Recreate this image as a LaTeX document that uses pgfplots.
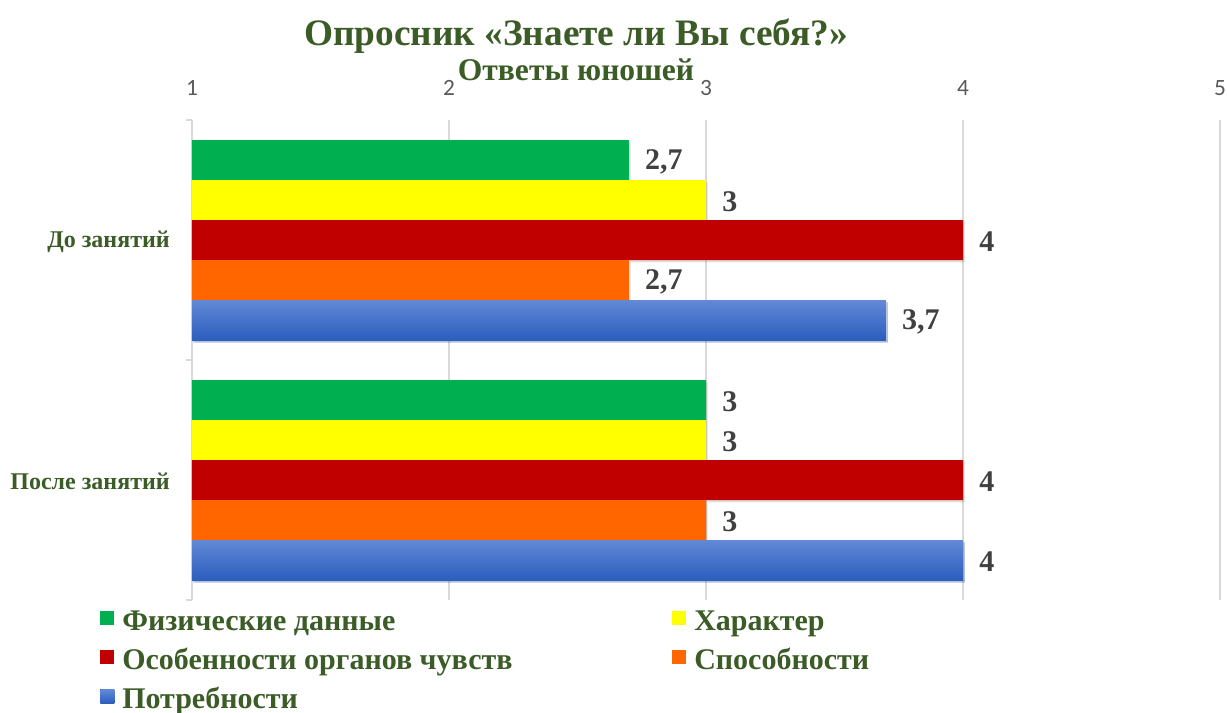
\documentclass[border=0pt]{standalone}
\usepackage{fontspec}
\setmainfont{Liberation Serif}
\newfontfamily\tickfont{Carlito}
\usepackage{pgfplots}
\pgfplotsset{compat=1.18}
\usetikzlibrary{shadows}
\definecolor{txtgreen}{RGB}{59,92,38}
\definecolor{gridgray}{RGB}{217,217,217}
\definecolor{tickgray}{RGB}{89,89,89}
\definecolor{lblgray}{RGB}{64,64,64}
\definecolor{cgreen}{RGB}{0,176,80}
\definecolor{cyellow}{RGB}{255,255,0}
\definecolor{cred}{RGB}{192,0,0}
\definecolor{corange}{RGB}{255,102,0}
\definecolor{cbluetop}{RGB}{98,137,214}
\definecolor{cbluebot}{RGB}{44,94,190}
\begin{document}
\begin{tikzpicture}
\path[use as bounding box] (-144pt,-84.75pt) rectangle (776.25pt,450pt);
\begin{axis}[
  at={(0,0)}, anchor=south west,
  scale only axis, width=771pt, height=360pt,
  xbar, xmin=1, xmax=5, xtick={1,2,3,4,5},
  ymin=-0.5, ymax=1.5, y dir=reverse,
  ytick={0,1}, yticklabels={До занятий, После занятий},
  minor ytick={-0.5,0.5,1.5},
  axis line style={draw=none},
  xticklabel pos=upper,
  ytick pos=left,
  major tick length=0pt, minor tick length=4.5pt, tick align=outside,
  minor tick style={draw=gridgray, line width=1.2pt},
  xmajorgrids, grid style={draw=gridgray, line width=1.2pt},
  xticklabel style={font=\tickfont\fontsize{17.5}{19}\selectfont, text=tickgray, anchor=base, inner sep=0pt, yshift=18.75pt},
  yticklabel style={font=\bfseries\fontsize{18}{20}\selectfont, text=txtgreen, anchor=east, inner sep=0pt, xshift=-16.5pt, yshift=-1.2pt},
  /pgf/number format/assume math mode=true,
  point meta=x,
  bar width=0.16667,
  nodes near coords={\pgfmathprintnumber[use comma,fixed,precision=1]{\pgfplotspointmeta}},
  every node near coord/.append style={font=\bfseries\fontsize{22.5}{24}\selectfont, text=lblgray, anchor=west, inner sep=0pt, xshift=12pt, yshift=-1.5pt},
  legend columns=2,
  legend style={at={(0,0)}, anchor=north west, xshift=-69pt, yshift=-6.5pt, draw=none, fill=none, inner sep=0pt, column sep=6pt, row sep=8.3pt,
    nodes={inner sep=0pt, text height=16pt, text depth=5pt, font=\bfseries\fontsize{22.5}{24}\selectfont, text=txtgreen}},
  legend cell align=left,
  legend image code/.code={\fill[#1] (0pt,-1.75pt) rectangle (10.5pt,8.75pt);},
  bshadow/.style={drop shadow={shadow xshift=1.2pt, shadow yshift=-1.8pt, opacity=0.25}},
]
\addlegendimage{fill=cgreen, draw=none}
\addlegendimage{fill=cyellow, draw=none}
\addlegendimage{fill=cred, draw=none}
\addlegendimage{fill=corange, draw=none}
\addlegendimage{top color=cbluetop, bottom color=cbluebot, draw=none}
\addplot[forget plot, fill=cgreen, draw=none, bar shift=-0.33333, bshadow] coordinates {(2.7,0) (3,1)};
\addplot[forget plot, fill=cyellow, draw=none, bar shift=-0.16667, bshadow] coordinates {(3,0) (3,1)};
\addplot[forget plot, fill=cred, draw=none, bar shift=0, bshadow] coordinates {(4,0) (4,1)};
\addplot[forget plot, fill=corange, draw=none, bar shift=0.16667, bshadow] coordinates {(2.7,0) (3,1)};
\addplot[forget plot, top color=cbluetop, bottom color=cbluebot, draw=none, bar shift=0.33333, bshadow] coordinates {(3.7,0)};
\addplot[forget plot, top color=cbluetop, bottom color=cbluebot, draw=none, bar shift=0.33333, bshadow] coordinates {(4,1)};
\legend{\makebox[406.5pt][l]{Физические данные}, Характер, \makebox[406.5pt][l]{Особенности органов чувств}, Способности, \makebox[406.5pt][l]{Потребности}}
\end{axis}
\node[font=\bfseries\fontsize{28}{31}\selectfont, text=txtgreen, anchor=base] at (288pt,415.5pt) {Опросник «Знаете ли Вы себя?»};
\node[font=\bfseries\fontsize{23.7}{26}\selectfont, text=txtgreen, anchor=base] at (288pt,389.25pt) {Ответы юношей};
\end{tikzpicture}
\end{document}
